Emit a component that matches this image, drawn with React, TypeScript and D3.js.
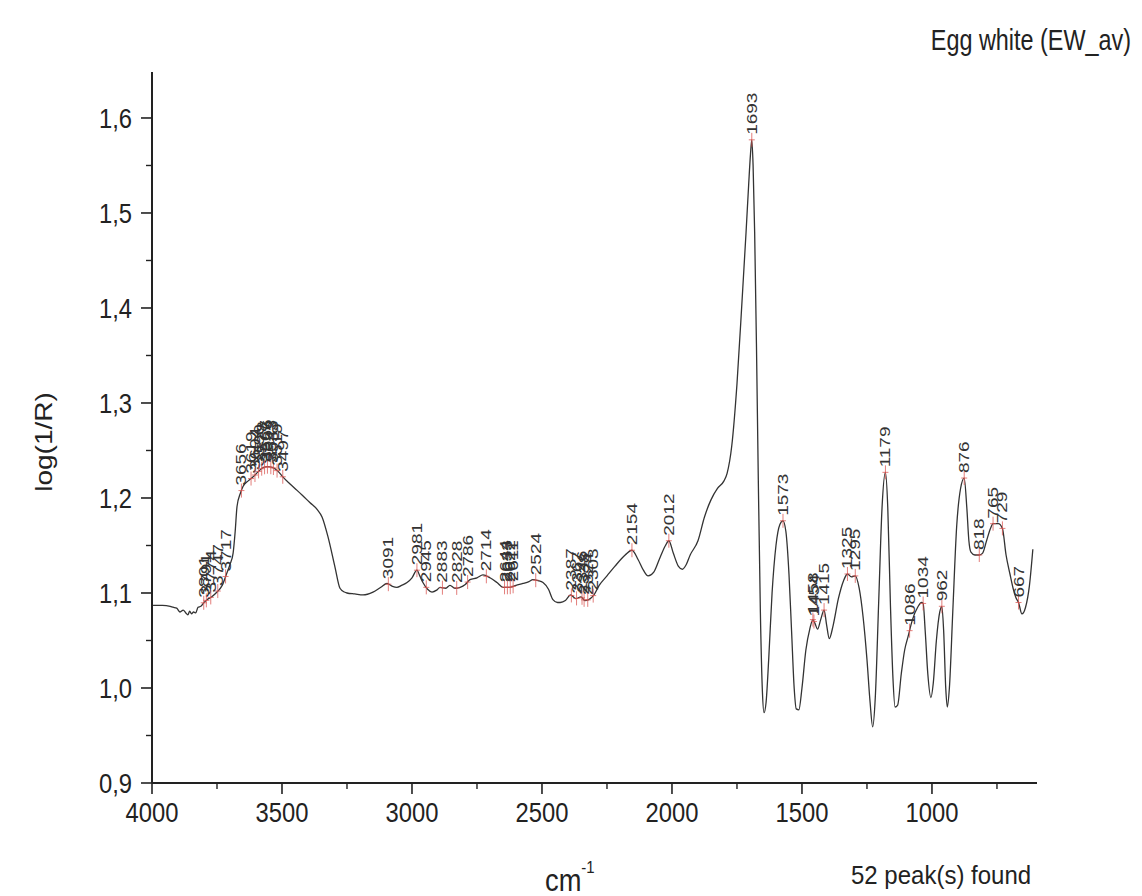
import React from "react";
import * as d3 from "d3";

// Spectrum (wavenumber cm-1, log(1/R))
const waveNumbers = [
  3996, 3960, 3930, 3919, 3905, 3892, 3880, 3870, 3862, 3855, 3848, 3840, 3832, 3823, 3812, 3800, 3788, 3770, 3750, 3730, 3712,
  3700, 3688, 3680, 3673, 3660, 3650, 3630, 3612, 3590, 3573, 3555, 3535, 3515, 3496, 3470, 3442, 3415, 3392, 3365, 3346,
  3323, 3296, 3277, 3260, 3250, 3220, 3188, 3150, 3120, 3096, 3075, 3058, 3040, 3019, 3000, 2981, 2970, 2958, 2940, 2923,
  2905, 2892, 2870, 2854, 2835, 2815, 2795, 2777, 2750, 2727, 2700, 2673, 2650, 2623, 2600, 2573, 2550, 2535, 2515, 2496,
  2475, 2458, 2440, 2430, 2410, 2390, 2370, 2350, 2335, 2320, 2300, 2280, 2250, 2220, 2180, 2154, 2130, 2110, 2092, 2070,
  2045, 2025, 2012, 1995, 1975, 1960, 1945, 1930, 1900, 1875, 1850, 1825, 1800, 1788, 1770, 1750, 1730, 1715, 1705, 1698,
  1693, 1688, 1682, 1675, 1668, 1660, 1652, 1646, 1638, 1628, 1615, 1600, 1585, 1573, 1562, 1550, 1540, 1530, 1522, 1512,
  1500, 1485, 1470, 1458, 1450, 1440, 1428, 1415, 1405, 1395, 1380, 1360, 1340, 1325, 1310, 1295, 1280, 1265, 1250, 1238,
  1228, 1218, 1205, 1192, 1179, 1170, 1160, 1150, 1142, 1132, 1118, 1105, 1092, 1075, 1055, 1040, 1034, 1026, 1016, 1004,
  995, 983, 970, 962, 955, 947, 941, 933, 920, 905, 890, 876, 866, 858, 850, 835, 818, 805, 790, 775, 765, 745, 729, 715,
  700, 688, 677, 667, 654, 640, 625, 612,
];
const absorbance = [
  1.087, 1.087, 1.086, 1.085, 1.084, 1.08, 1.082, 1.079, 1.077, 1.081, 1.078, 1.08, 1.079, 1.085, 1.086, 1.09, 1.093, 1.096, 1.101, 1.108, 1.121,
  1.13, 1.142, 1.165, 1.191, 1.205, 1.212, 1.218, 1.222, 1.228, 1.232, 1.233, 1.232, 1.228, 1.222, 1.215, 1.208, 1.201, 1.195, 1.188, 1.18,
  1.159, 1.127, 1.105, 1.101, 1.1, 1.099, 1.098, 1.101, 1.106, 1.11, 1.107, 1.106, 1.108, 1.111, 1.116, 1.124, 1.118, 1.111, 1.104, 1.101,
  1.103, 1.106, 1.105, 1.108, 1.105, 1.106, 1.109, 1.114, 1.116, 1.119, 1.116, 1.111, 1.106, 1.106, 1.108, 1.11, 1.112, 1.114, 1.113, 1.111,
  1.104, 1.093, 1.09, 1.09, 1.092, 1.098, 1.094, 1.096, 1.092, 1.093, 1.098, 1.108, 1.118, 1.128, 1.14, 1.145, 1.135, 1.124, 1.118, 1.122,
  1.138, 1.15, 1.155, 1.142, 1.128, 1.125, 1.13, 1.14, 1.155, 1.18, 1.198, 1.21, 1.218, 1.226, 1.255, 1.32, 1.41, 1.48, 1.53, 1.562,
  1.577, 1.55, 1.48, 1.36, 1.22, 1.08, 0.995, 0.974, 0.985, 1.03, 1.1, 1.15, 1.172, 1.176, 1.165, 1.12, 1.06, 1.0, 0.978, 0.977,
  1.0, 1.04, 1.062, 1.072, 1.068, 1.062, 1.072, 1.082, 1.066, 1.052, 1.066, 1.094, 1.113, 1.12, 1.117, 1.118, 1.105, 1.075, 1.03, 0.985,
  0.959, 0.99, 1.09, 1.19, 1.227, 1.19, 1.09, 1.01, 0.98, 0.982, 1.015, 1.04, 1.054, 1.072, 1.085, 1.09, 1.089, 1.06, 1.015, 0.99,
  1.005, 1.05, 1.08, 1.086, 1.06, 1.0, 0.98, 1.0, 1.08, 1.17, 1.21, 1.221, 1.19, 1.155, 1.143, 1.14, 1.14, 1.142, 1.155, 1.168, 1.173, 1.173, 1.168, 1.14,
  1.12, 1.105, 1.095, 1.09, 1.078, 1.085, 1.108, 1.146,
];

// Peaks found (cm-1)
const peaks = [
  3801, 3791, 3774, 3747, 3717,
  3656, 3619, 3604, 3590, 3578, 3567, 3556, 3543, 3533, 3519, 3497,
  3091, 2981, 2945, 2883, 2828, 2786, 2714,
  2644, 2633, 2622, 2611, 2524,
  2387, 2367, 2346, 2338, 2324, 2303,
  2154, 2012, 1693, 1573, 1458, 1454, 1415, 1325, 1295, 1179,
  1086, 1034, 962, 876, 818, 765, 729, 667,
];

const xMajorTicks = [4000, 3500, 3000, 2500, 2000, 1500, 1000];
const xMinorTicks = [3750, 3250, 2750, 2250, 1750, 1250, 750];
const yMajorTicks = [0.9, 1.0, 1.1, 1.2, 1.3, 1.4, 1.5, 1.6];
const yMinorTicks = [0.95, 1.05, 1.15, 1.25, 1.35, 1.45, 1.55];

const titleText = "Egg white (EW_av)";
const yLabel = "log(1/R)";
const peakCountText = "52 peak(s) found";

const FONT = "'Liberation Sans', Arial, Helvetica, sans-serif";
const SX = 0.78; // horizontal condensation of the source's text
const TICK_SX = 0.85;

export default function App() {
  const x = d3.scaleLinear().domain([4000, 596]).range([152, 1037]);
  const y = d3.scaleLinear().domain([0.9, 1.6484]).range([783, 72]);

  const pts: [number, number][] = waveNumbers.map((w, i) => [w, absorbance[i]]);
  const line = d3
    .line<[number, number]>()
    .x((d) => x(d[0]))
    .y((d) => y(d[1]))
    .curve(d3.curveMonotoneX);

  const valueAt = (w: number) => {
    for (let i = 0; i < waveNumbers.length - 1; i++) {
      const a = waveNumbers[i];
      const b = waveNumbers[i + 1];
      if (w <= a && w >= b) {
        const t = (a - w) / (a - b);
        return absorbance[i] + t * (absorbance[i + 1] - absorbance[i]);
      }
    }
    return absorbance[absorbance.length - 1];
  };

  const fmt = (v: number) => v.toFixed(1).replace(".", ",");

  return (
    <svg
      width={1142}
      height={896}
      style={{ position: "absolute", left: 0, top: 0, background: "#fff" }}
      fontFamily={FONT}
    >
      <rect x={0} y={0} width={1142} height={896} fill="#fff" />
      {/* Title */}
      <text transform={`translate(1131,50) scale(${SX},1)`} textAnchor="end" fontSize={30} fill="#222">
        {titleText}
      </text>

      {/* Y axis */}
      <line x1={152} x2={152} y1={72} y2={783} stroke="#222" strokeWidth={2} />
      {yMajorTicks.map((t) => (
        <g key={"ym" + t}>
          <line x1={141} x2={152} y1={y(t)} y2={y(t)} stroke="#222" strokeWidth={1.6} />
          <text
            transform={`translate(132,${y(t) + 10}) scale(${TICK_SX},1)`}
            textAnchor="end"
            fontSize={28}
            fill="#222"
          >
            {fmt(t)}
          </text>
        </g>
      ))}
      {yMinorTicks.map((t) => (
        <line key={"yn" + t} x1={146} x2={152} y1={y(t)} y2={y(t)} stroke="#222" strokeWidth={1.4} />
      ))}
      <text
        transform={`translate(52,442) rotate(-90) scale(1,${SX + 0.1})`}
        textAnchor="middle"
        fontSize={28}
        fill="#222"
      >
        {yLabel}
      </text>

      {/* X axis */}
      <line x1={152} x2={1037} y1={783} y2={783} stroke="#222" strokeWidth={2} />
      {xMajorTicks.map((t) => (
        <g key={"xm" + t}>
          <line x1={x(t)} x2={x(t)} y1={783} y2={794} stroke="#222" strokeWidth={1.6} />
          <text
            transform={`translate(${x(t)},822) scale(${TICK_SX},1)`}
            textAnchor="middle"
            fontSize={28}
            fill="#222"
          >
            {t}
          </text>
        </g>
      ))}
      {xMinorTicks.map((t) => (
        <line key={"xn" + t} x1={x(t)} x2={x(t)} y1={783} y2={789} stroke="#222" strokeWidth={1.4} />
      ))}
      <text transform={`translate(545,891) scale(${SX + 0.1},1)`} fontSize={31} fill="#222">
        cm
        <tspan dy={-18} fontSize={17}>
          -1
        </tspan>
      </text>
      <text transform={`translate(851,884) scale(0.96,1)`} fontSize={25} fill="#222">
        {peakCountText}
      </text>

      {/* Spectrum */}
      <path d={line(pts) || ""} fill="none" stroke="#333" strokeWidth={1.3} />

      {/* Peak markers and labels */}
      {peaks.map((p, i) => {
        const px = x(p);
        const py = y(valueAt(p));
        return (
          <g key={"pk" + i}>
            <line x1={px} x2={px} y1={py - 7} y2={py + 7} stroke="#d9534f" strokeOpacity={0.75} strokeWidth={1} />
            <line x1={px - 3} x2={px + 3} y1={py} y2={py} stroke="#d9534f" strokeOpacity={0.75} strokeWidth={1} />
            <text
              transform={`translate(${px + 5},${py - 5}) rotate(-90) scale(1,${SX})`}
              fontSize={19}
              fill="#333"
            >
              {p}
            </text>
          </g>
        );
      })}
    </svg>
  );
}
